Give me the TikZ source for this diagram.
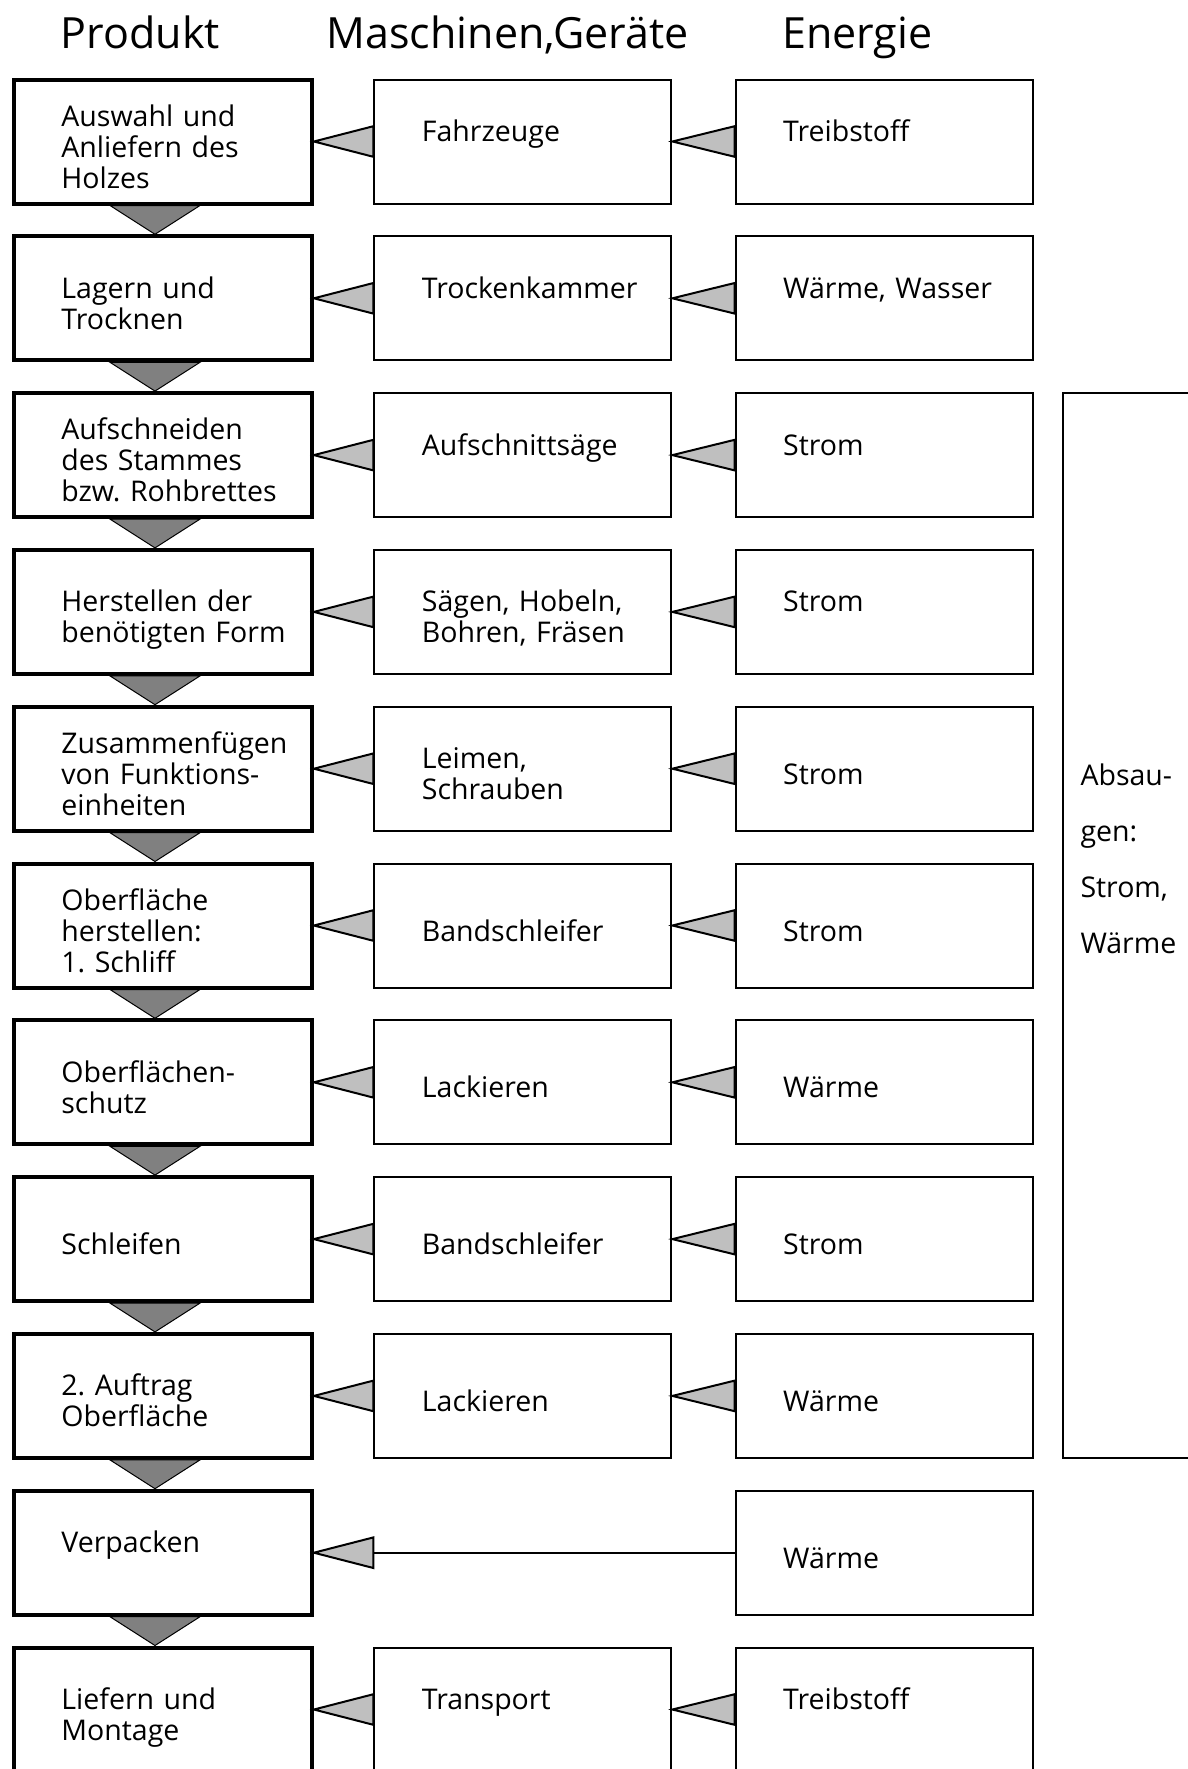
\documentclass[tikz,border=0pt]{standalone}
\usepackage{fontspec}
\setmainfont{Open Sans}
\frenchspacing
\usetikzlibrary{calc}
\tikzset{
  box/.style = {draw, rectangle, inner sep=0pt, align=left,
                font=\fontsize{28.5pt}{31pt}\selectfont,
                execute at begin node={\leftskip=47.5pt\relax}},
  prodbox/.style = {box, line width=4pt, text width=298pt},
  workbox/.style = {box, line width=2pt, text width=297pt},
  txtup/.style = {text height=46.5pt, text depth=77.5pt},
  txtmid/.style = {text height=62pt, text depth=62pt},
  txtdown/.style = {text height=77.5pt, text depth=46.5pt},
  head/.style = {anchor=base west, inner sep=0pt, font=\fontsize{43pt}{46pt}\selectfont},
  down/.style = {draw, line width=1pt, fill=black!50},
  side/.style = {draw, line width=2pt, fill=black!25},
}

\begin{document}
\begin{tikzpicture}[x=1pt, y=-1pt]
    \useasboundingbox (0,0) rectangle (1187,1769);
    \node[head] (hp) at (60.5,48.3) {Produkt};
    \node[head] (hm) at (326.5,48.3) {Maschinen,Geräte};
    \node[head] (he) at (782,48.3) {Energie};
    % Produkt
    \node[prodbox, txtup] (p1) at (162.9,141.5) {Auswahl und\\Anliefern des\\Holzes};
    \node[prodbox, txtmid] (p2) at (162.9,298.3) {Lagern und\\Trocknen};
    \node[prodbox, txtup] (p3) at (162.9,455.1) {Aufschneiden\\des Stammes\\bzw. Rohbrettes};
    \node[prodbox, txtmid] (p4) at (162.9,611.9) {Herstellen der\\benötigten Form};
    \node[prodbox, txtup] (p5) at (162.9,768.7) {Zusammenfügen\\von Funktions-\\einheiten};
    \node[prodbox, txtup] (p6) at (162.9,925.5) {Oberfläche\\herstellen:\\1. Schliff};
    \node[prodbox, txtmid] (p7) at (162.9,1082.3) {Oberflächen-\\schutz};
    \node[prodbox, txtdown] (p8) at (162.9,1239.1) {Schleifen};
    \node[prodbox, txtmid] (p9) at (162.9,1395.9) {2. Auftrag\\Oberfläche};
    \node[prodbox, txtmid] (p10) at (162.9,1552.7) {Verpacken};
    \node[prodbox, txtmid] (p11) at (162.9,1709.5) {Liefern und\\Montage};
    % Maschinen, Geraete
    \node[workbox, txtmid] (m1) at (522.9,141.5) {Fahrzeuge};
    \node[workbox, txtmid] (m2) at (522.9,298.3) {Trockenkammer};
    \node[workbox, txtmid] (m3) at (522.9,455.1) {Aufschnittsäge};
    \node[workbox, txtmid] (m4) at (522.9,611.9) {Sägen, Hobeln,\\Bohren, Fräsen};
    \node[workbox, txtmid] (m5) at (522.9,768.7) {Leimen,\\Schrauben};
    \node[workbox, txtdown] (m6) at (522.9,925.5) {Bandschleifer};
    \node[workbox, txtdown] (m7) at (522.9,1082.3) {Lackieren};
    \node[workbox, txtdown] (m8) at (522.9,1239.1) {Bandschleifer};
    \node[workbox, txtdown] (m9) at (522.9,1395.9) {Lackieren};
    \node[workbox, txtmid] (m11) at (522.9,1709.5) {Transport};
    % Energie
    \node[workbox, txtmid] (e1) at (884.2,141.5) {Treibstoff};
    \node[workbox, txtmid] (e2) at (884.2,298.3) {Wärme, Wasser};
    \node[workbox, txtmid] (e3) at (884.2,455.1) {Strom};
    \node[workbox, txtmid] (e4) at (884.2,611.9) {Strom};
    \node[workbox, txtdown] (e5) at (884.2,768.7) {Strom};
    \node[workbox, txtdown] (e6) at (884.2,925.5) {Strom};
    \node[workbox, txtdown] (e7) at (884.2,1082.3) {Wärme};
    \node[workbox, txtdown] (e8) at (884.2,1239.1) {Strom};
    \node[workbox, txtdown] (e9) at (884.2,1395.9) {Wärme};
    \node[workbox, txtdown] (e10) at (884.2,1552.7) {Wärme};
    \node[workbox, txtmid] (e11) at (884.2,1709.5) {Treibstoff};
    \node[workbox, text width=237pt, text height=391.9pt, text depth=672.9pt,
          font=\fontsize{28.5pt}{56pt}\selectfont,
          execute at begin node={\leftskip=17.5pt\relax}] (abs) at (1181.5,925.5)
          {Absau-\\gen:\\Strom,\\Wärme};
    % Pfeile
    \foreach \i [count=\j from 2] in {1,...,10}
        \draw[down] ([xshift=-52.9pt]p\i.south) -- ([xshift=37.1pt]p\i.south)
                    -- ([xshift=-7.9pt]p\j.north) -- cycle;
    \foreach \i in {1,...,9,11} {
        \draw[side] ([yshift=15.3pt]m\i.west) -- (p\i.east) -- ([yshift=-15.3pt]m\i.west) -- cycle;
        \draw[side] ([yshift=15.3pt]e\i.west) -- (m\i.east) -- ([yshift=-15.3pt]e\i.west) -- cycle;
    }
    \coordinate (v10) at (m9.west |- p10.east);
    \draw[line width=2pt] (e10.west) -- (v10);
    \draw[side] ([yshift=15.3pt]v10) -- (p10.east) -- ([yshift=-15.3pt]v10) -- cycle;
\end{tikzpicture}
\end{document}
